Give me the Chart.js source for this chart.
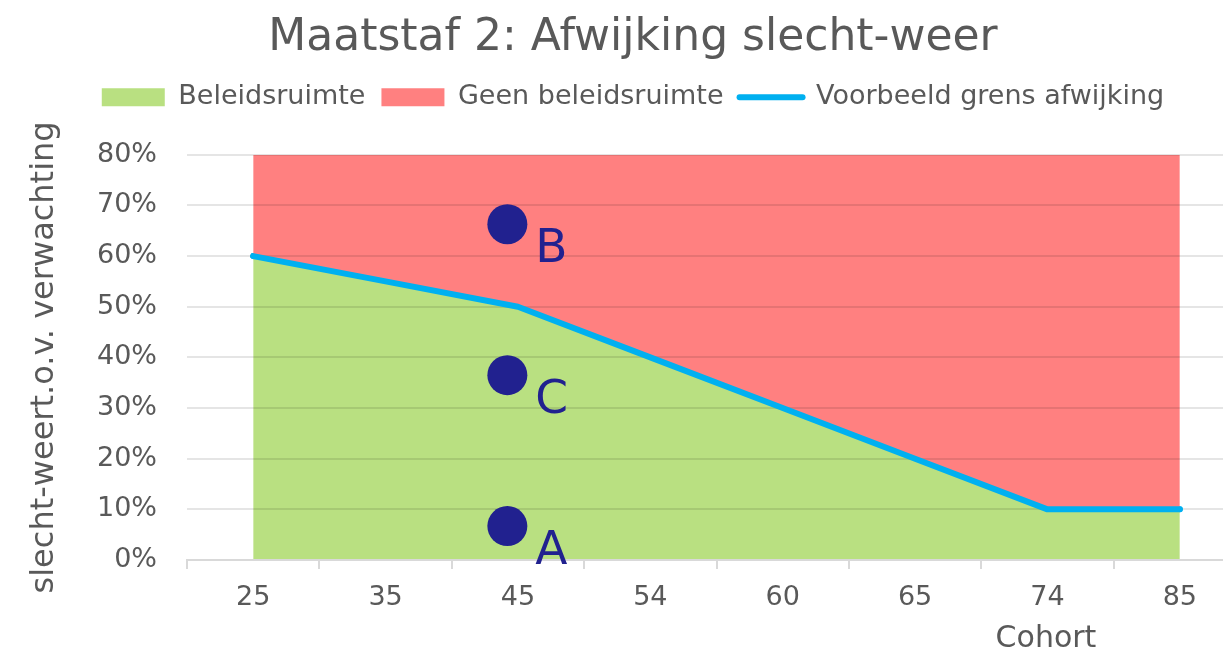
<!DOCTYPE html>
<html lang="nl">
<head>
<meta charset="UTF-8">
<title>Maatstaf 2: Afwijking slecht-weer</title>
<script src="https://cdn.jsdelivr.net/npm/chart.js@4.4.0/dist/chart.umd.min.js"></script>
<style>
    html, body { margin: 0; padding: 0; background: #fff; overflow: hidden; }
    #wrap { width: 1266px; height: 652px; position: relative; }
</style>
</head>
<body>
<div id="wrap"><canvas id="grafiek"></canvas></div>

<script>
// cohorten op de x-as, waarden in procenten
const cohorten = ['25', '35', '45', '54', '60', '65', '74', '85'];
const grensAfwijking = [60, 55, 50, 40, 30, 20, 10, 10];
const bovengrens = [80, 80, 80, 80, 80, 80, 80, 80];
// losse punten A, B, C (positie als index op de cohort-as)
const puntNamen = ['A', 'B', 'C'];
const puntPositie = [1.92, 1.92, 1.92];
const puntWaarden = [6.7, 66.3, 36.5];
const legendaNamen = ['Beleidsruimte', 'Geen beleidsruimte', 'Voorbeeld grens afwijking'];

const grijs = '#595959';
const groen = '#B9E081';
const rood = '#FF8080';
const blauw = '#00B0F0';
const navy = '#21218F';

Chart.defaults.font.family = '"DejaVu Sans", Verdana, sans-serif';

// legenda iets hoger maken zodat het plotvlak op dezelfde plek begint
const legendaHoogte = {
    id: 'legendaHoogte',
    beforeLayout(chart) {
        const lg = chart.legend;
        if (lg && !lg._aangepast) {
            const fit = lg.fit;
            lg.fit = function () { fit.call(this); this.height = 87; };
            lg._aangepast = true;
        }
    }
};

// lijn en punten opnieuw over de rasterlijnen, plus de letters en "Cohort"
const teksten = {
    id: 'teksten',
    afterDraw(chart) {
        const ctx = chart.ctx;
        chart.getDatasetMeta(2).controller.draw();
        chart.getDatasetMeta(3).controller.draw();
        ctx.save();
        ctx.fillStyle = navy;
        ctx.font = '47px "DejaVu Sans", Verdana, sans-serif';
        ctx.textAlign = 'left';
        ctx.textBaseline = 'alphabetic';
        chart.getDatasetMeta(3).data.forEach((p, i) => {
            ctx.fillText(puntNamen[i], p.x + 28, p.y + 38);
        });
        ctx.fillStyle = grijs;
        ctx.font = '30px "DejaVu Sans", Verdana, sans-serif';
        ctx.textAlign = 'center';
        ctx.fillText('Cohort', chart.chartArea.right - 200, 647);
        ctx.restore();
    }
};

new Chart(document.getElementById('grafiek'), {
    type: 'line',
    data: {
        labels: cohorten,
        datasets: [
            {
                label: legendaNamen[0],
                data: grensAfwijking,
                fill: 'origin',
                backgroundColor: groen,
                borderColor: 'transparent',
                borderWidth: 0,
                pointRadius: 0
            },
            {
                label: legendaNamen[1],
                data: bovengrens,
                fill: '-1',
                backgroundColor: rood,
                borderColor: 'transparent',
                borderWidth: 0,
                pointRadius: 0
            },
            {
                label: legendaNamen[2],
                data: grensAfwijking,
                fill: false,
                borderColor: blauw,
                borderWidth: 6,
                borderCapStyle: 'round',
                borderJoinStyle: 'round',
                pointRadius: 0
            },
            {
                type: 'scatter',
                label: 'punten',
                data: puntWaarden.map((v, i) => ({ x: puntPositie[i], y: v })),
                xAxisID: 'xp',
                backgroundColor: navy,
                borderWidth: 0,
                pointRadius: 20
            }
        ]
    },
    options: {
        responsive: true,
        maintainAspectRatio: false,
        animation: false,
        events: [],
        layout: { padding: { left: 19, right: 19, top: 0, bottom: 0 } },
        plugins: {
            title: {
                display: true,
                text: 'Maatstaf 2: Afwijking slecht-weer',
                color: grijs,
                font: { size: 44, weight: 'normal' },
                padding: { top: 12, bottom: 3 }
            },
            legend: {
                position: 'top',
                labels: {
                    usePointStyle: true,
                    pointStyleWidth: 63,
                    boxHeight: 18,
                    padding: 16,
                    color: grijs,
                    font: { size: 27 },
                    generateLabels: () => legendaNamen.map((naam, i) => ({
                        text: naam,
                        fillStyle: i === 0 ? groen : (i === 1 ? rood : 'transparent'),
                        strokeStyle: i === 2 ? blauw : 'transparent',
                        lineWidth: i === 2 ? 6 : 0,
                        lineCap: 'round',
                        pointStyle: i === 2 ? 'line' : 'rect',
                        fontColor: grijs,
                        hidden: false,
                        datasetIndex: i
                    }))
                }
            },
            tooltip: { enabled: false }
        },
        scales: {
            x: {
                type: 'category',
                offset: true,
                grid: { offset: true, drawOnChartArea: false, drawTicks: true, tickLength: 9, color: '#d9d9d9', lineWidth: 2, z: 1 },
                border: { display: true, color: '#d9d9d9', width: 2, z: 1 },
                ticks: { color: grijs, font: { size: 27 }, padding: 13, maxRotation: 0, autoSkip: false },
                afterFit: s => { s.height = 92; }
            },
            xp: { type: 'linear', display: false, min: -0.5, max: 7.5 },
            y: {
                min: 0,
                max: 80,
                ticks: { stepSize: 10, callback: v => v + '%', color: grijs, font: { size: 27 }, padding: 30 },
                grid: {
                    color: c => c.tick && c.tick.value === 0 ? 'transparent' : 'rgba(0,0,0,0.1)',
                    lineWidth: 2,
                    drawTicks: false,
                    z: 1
                },
                border: { display: false },
                title: {
                    display: true,
                    text: 'slecht-weert.o.v. verwachting',
                    color: grijs,
                    font: { size: 32 },
                    padding: { top: 6, bottom: 0 }
                },
                afterFit: s => { s.width = 168; }
            }
        }
    },
    plugins: [legendaHoogte, teksten]
});
</script>
</body>
</html>
